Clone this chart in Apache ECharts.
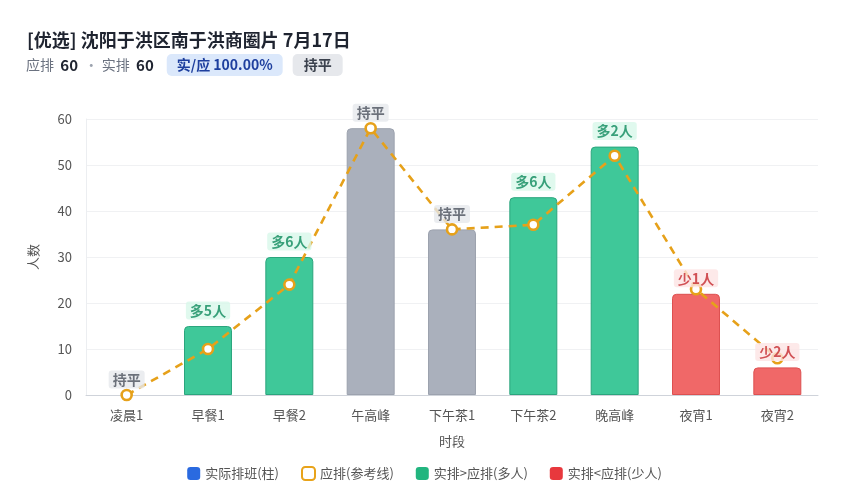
<!DOCTYPE html>
<html>
<head>
<meta charset="utf-8">
<script src="https://cdn.jsdelivr.net/npm/echarts@6/dist/echarts.min.js"></script>
<style>
html, body { margin: 0; padding: 0; background: #fff; }
#main { width: 849px; height: 500px; }
</style>
</head>
<body>
<div id="main"></div>
<script>
var slots = ['凌晨1', '早餐1', '早餐2', '午高峰', '下午茶1', '下午茶2', '晚高峰', '夜宵1', '夜宵2'];
var actual = [0, 15, 30, 58, 36, 43, 54, 22, 6];
var planned = [0, 10, 24, 58, 36, 37, 52, 23, 8];

var FONT = '"Noto Sans CJK SC", "Noto Sans", sans-serif';
var chart = echarts.init(document.getElementById('main'));

function kind(i) {
    var d = actual[i] - planned[i];
    return d > 0 ? 'up' : (d < 0 ? 'down' : 'eq');
}
var fill = { up: '#3fc899', down: '#f06868', eq: '#aab0bc' };
var edge = { up: '#2ba57d', down: '#dd5050', eq: '#9ca2ae' };

var barData = actual.map(function (v, i) {
    var k = kind(i);
    return { value: v, itemStyle: { color: fill[k], borderColor: v ? edge[k] : 'transparent' } };
});

var labelRich = {
    up: { fontSize: 14, fontWeight: 'bold', color: '#0e8a5c', backgroundColor: '#d8f7ea', borderRadius: 3, padding: [2, 4], fontFamily: FONT },
    down: { fontSize: 14, fontWeight: 'bold', color: '#c62a2f', backgroundColor: '#fde3e3', borderRadius: 3, padding: [2, 4], fontFamily: FONT },
    eq: { fontSize: 14, fontWeight: 'bold', color: '#4b515c', backgroundColor: '#e6e8ec', borderRadius: 3, padding: [2, 4], fontFamily: FONT }
};

var option = {
    textStyle: { fontFamily: FONT },
    animation: false,
    title: {
        text: '[优选] 沈阳于洪区南于洪商圈片 7月17日',
        left: 22, top: 26,
        textStyle: { fontSize: 18, fontWeight: 'bold', color: '#1f2430', fontFamily: FONT }
    },
    graphic: [{
        type: 'text', left: 26, top: 54,
        style: {
            text: '{l|应排} {n|60} {d|·} {l|实排} {n|60}   {b|实/应 100.00%}   {g|持平}',
            rich: {
                l: { fontSize: 14, fill: '#6b7280', fontFamily: FONT },
                d: { fontSize: 14, fill: '#9ca3af', fontFamily: FONT },
                n: { fontSize: 15, fontWeight: 'bold', fill: '#1f2430', fontFamily: FONT, padding: [0, 3] },
                b: { fontSize: 14, fontWeight: 'bold', fill: '#1e3f9e', backgroundColor: '#dbe8fb', borderRadius: 5, padding: [4, 10], fontFamily: FONT },
                g: { fontSize: 14, fontWeight: 'bold', fill: '#3b414d', backgroundColor: '#e6e8ec', borderRadius: 5, padding: [4, 11], fontFamily: FONT }
            }
        }
    }],
    legend: {
        bottom: 14, left: 'center',
        itemWidth: 13, itemHeight: 13, itemGap: 22,
        icon: 'roundRect',
        textStyle: { fontSize: 13, color: '#555', fontFamily: FONT },
        data: [
            { name: '实际排班(柱)', itemStyle: { color: '#2a6ae0' } },
            { name: '应排(参考线)', itemStyle: { color: '#fff', borderColor: '#e8a31a', borderWidth: 2 } },
            { name: '实排>应排(多人)', itemStyle: { color: '#22b57f' } },
            { name: '实排<应排(少人)', itemStyle: { color: '#e8383d' } }
        ]
    },
    grid: { left: 86, right: 31, top: 119, bottom: 105 },
    xAxis: {
        type: 'category',
        data: slots,
        name: '时段', nameLocation: 'middle', nameGap: 40,
        nameTextStyle: { fontSize: 13, color: '#555', fontFamily: FONT },
        axisLine: { lineStyle: { color: '#cfd3da' } },
        axisTick: { show: false },
        axisLabel: { fontSize: 13, color: '#555', margin: 14, fontFamily: FONT }
    },
    yAxis: {
        type: 'value', min: 0, max: 60, interval: 10,
        name: '人数', nameLocation: 'middle', nameGap: 46,
        nameTextStyle: { fontSize: 13, color: '#555', fontFamily: FONT },
        axisLine: { show: true, lineStyle: { color: '#eceef1' } },
        axisLabel: { fontSize: 13, color: '#555', margin: 14, fontFamily: FONT },
        splitLine: { lineStyle: { color: '#f0f1f3' } }
    },
    series: [{
        name: '实际排班(柱)',
        type: 'bar',
        barWidth: '59%',
        data: barData,
        itemStyle: { color: '#2a6ae0', borderWidth: 1, borderRadius: [4, 4, 0, 0] }
    }, {
        name: '应排(参考线)',
        type: 'line',
        data: planned,
        z: 5,
        symbol: 'circle', symbolSize: 10,
        lineStyle: { color: '#e6a11a', width: 2.6, type: [8, 6] },
        itemStyle: { color: '#fff', borderColor: '#e6a11a', borderWidth: 2.6 }
    }, {
        name: 'diff',
        type: 'scatter',
        data: actual,
        z: 10,
        symbolSize: 1,
        itemStyle: { color: 'transparent' },
        silent: true,
        label: {
            show: true, position: 'top', distance: 6,
            formatter: function (p) {
                var d = actual[p.dataIndex] - planned[p.dataIndex];
                if (d > 0) return '{up|多' + d + '人}';
                if (d < 0) return '{down|少' + (-d) + '人}';
                return '{eq|持平}';
            },
            rich: labelRich
        }
    }, {
        name: '实排>应排(多人)', type: 'line', data: [],
        itemStyle: { color: '#22b57f' }
    }, {
        name: '实排<应排(少人)', type: 'line', data: [],
        itemStyle: { color: '#e8383d' }
    }]
};
chart.setOption(option);
</script>
</body>
</html>
